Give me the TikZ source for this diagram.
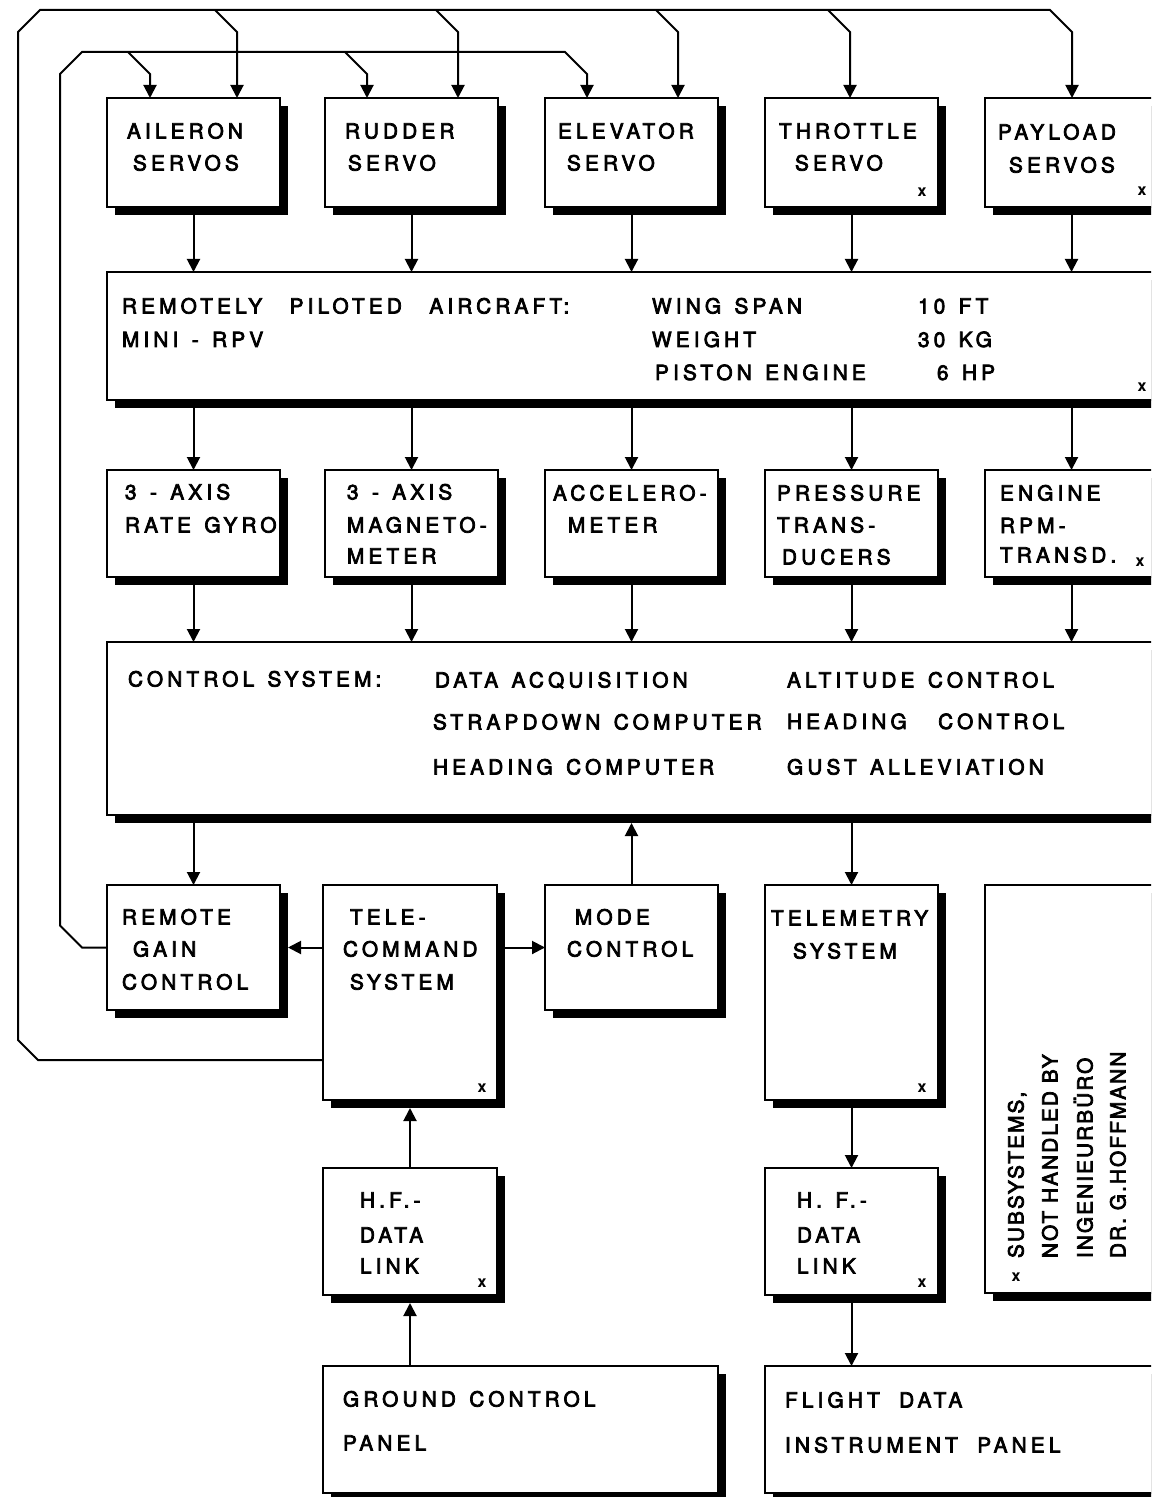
\documentclass[tikz,border=0pt]{standalone}
\usepackage{fontspec}
\setmainfont{TeX Gyre Heros}
\newfontfamily\lsf{TeX Gyre Heros}[LetterSpace=20,WordSpace=1.35,FakeBold=3.5]
\newfontfamily\nsf{TeX Gyre Heros}[LetterSpace=10,FakeBold=3.5]
\usetikzlibrary{arrows.meta}
\tikzset{
  box/.style={draw, line width=1.3pt, fill=white, inner sep=0pt, outer sep=0pt, anchor=north west},
  shadowfill/.style={fill=black},
  txt/.style={anchor=base west, inner sep=0pt, outer sep=0pt, font=\fontsize{10.4}{12}\lsf},
  ntxt/.style={anchor=base west, inner sep=0pt, outer sep=0pt, rotate=90, font=\fontsize{10.4}{12}\nsf},
  xm/.style={inner sep=0pt, font=\fontsize{8}{9}\selectfont\bfseries},
  arr/.style={line width=1pt, -{Triangle[length=6.5pt,width=6.5pt]}},
}
\newcommand\bx[5]{%
  \pgfmathsetmacro\bxw{(#4-#2)*0.5}\pgfmathsetmacro\bxh{(#5-#3)*0.5}%
  \fill[shadowfill] (#2+8,#3+8) rectangle (#4+8,#5+8);
  \node[box, minimum width=\bxw pt, minimum height=\bxh pt] (#1) at (#2,#3) {};}
\newcommand\wsp{\hspace{7pt}}
\begin{document}
\begin{tikzpicture}[x=0.5pt,y=-0.5pt]
\useasboundingbox (0,0) rectangle (1151,1497);
\clip (0,0) rectangle (1151,1497);
\fill[white] (0,0) rectangle (1151,1497);
% boxes
\bx{ail}{107}{98}{280}{207}
\bx{rud}{325}{98}{498}{207}
\bx{ele}{545}{98}{718}{207}
\bx{thr}{765}{98}{938}{207}
\bx{pay}{985}{98}{1158}{207}
\bx{rpa}{107}{272}{1170}{400}
\bx{gyr}{107}{470}{280}{577}
\bx{mag}{325}{470}{498}{577}
\bx{acc}{545}{470}{718}{577}
\bx{prs}{765}{470}{938}{577}
\bx{eng}{985}{470}{1158}{577}
\bx{cs}{107}{642}{1170}{815}
\bx{rgc}{107}{885}{280}{1010}
\bx{tc}{323}{885}{497}{1100}
\bx{mode}{545}{885}{718}{1010}
\bx{tm}{765}{885}{938}{1100}
\bx{note}{985}{885}{1170}{1293}
\bx{hf1}{323}{1168}{497}{1295}
\bx{hf2}{765}{1168}{938}{1295}
\bx{gcp}{323}{1366}{718}{1493}
\bx{fdp}{765}{1366}{1170}{1493}
% texts row 1
\node[txt] (tail1) at (127,138.5) {AILERON};
\node[txt] (tail2) at (133,170.5) {SERVOS};
\node[txt] (trud1) at (345,138.5) {RUDDER};
\node[txt] (trud2) at (348,170.5) {SERVO};
\node[txt] (tele1) at (558,138.5) {ELEVATOR};
\node[txt] (tele2) at (567,170.5) {SERVO};
\node[txt] (tthr1) at (779,138.5) {THROTTLE};
\node[txt] (tthr2) at (795,170.5) {SERVO};
\node[xm]  (xthr) at (922,192) {x};
\node[txt] (tpay1) at (998,139.5) {PAYLOAD};
\node[txt] (tpay2) at (1009,172.5) {SERVOS};
\node[xm]  (xpay) at (1142,191) {x};
% RPA
\node[txt] (trpa1) at (122,313.5) {REMOTELY\wsp{} PILOTED\wsp{} AIRCRAFT:};
\node[txt] (trpa2) at (122,347) {MINI - RPV};
\node[txt] (trpa3) at (652,313.5) {WING SPAN};
\node[txt] (trpa4) at (652,347) {WEIGHT};
\node[txt] (trpa5) at (655,380) {PISTON ENGINE};
\node[txt] (trpa6) at (918,313.5) {10 FT};
\node[txt] (trpa7) at (918,347) {30 KG};
\node[txt] (trpa8) at (937,380) {6 HP};
\node[xm]  (xrpa) at (1142,387) {x};
% row 3
\node[txt] (tgyr1) at (125,499.5) {3 - AXIS};
\node[txt] (tgyr2) at (125,532.5) {RATE GYRO};
\node[txt] (tmag1) at (347,499.5) {3 - AXIS};
\node[txt] (tmag2) at (347,532.5) {MAGNETO-};
\node[txt] (tmag3) at (347,563.5) {METER};
\node[txt] (tacc1) at (553,500.5) {ACCELERO-};
\node[txt] (tacc2) at (568,532.5) {METER};
\node[txt] (tprs1) at (777,500.5) {PRESSURE};
\node[txt] (tprs2) at (777,532.5) {TRANS-};
\node[txt] (tprs3) at (782,564.5) {DUCERS};
\node[txt] (teng1) at (1000,500.5) {ENGINE};
\node[txt] (teng2) at (1000,533) {RPM-};
\node[txt] (teng3) at (1000,562.5) {TRANSD.};
\node[xm]  (xeng) at (1140,562) {x};
% control system
\node[txt] (tcs1) at (128,686.5) {CONTROL SYSTEM:};
\node[txt] (tcs2) at (435,687.5) {DATA ACQUISITION};
\node[txt] (tcs3) at (433,729.5) {STRAPDOWN COMPUTER};
\node[txt] (tcs4) at (433,774.5) {HEADING COMPUTER};
\node[txt] (tcs5) at (787,687.5) {ALTITUDE CONTROL};
\node[txt] (tcs6) at (787,729) {HEADING\hspace{9pt} CONTROL};
\node[txt] (tcs7) at (787,774.5) {GUST ALLEVIATION};
% row 4
\node[txt] (trgc1) at (122,924.5) {REMOTE};
\node[txt] (trgc2) at (133,956.5) {GAIN};
\node[txt] (trgc3) at (122,989.5) {CONTROL};
\node[txt] (ttc1) at (350,924.5) {TELE-};
\node[txt] (ttc2) at (343,956.5) {COMMAND};
\node[txt] (ttc3) at (350,989.5) {SYSTEM};
\node[xm]  (xtc) at (482,1088) {x};
\node[txt] (tmode1) at (575,924.5) {MODE};
\node[txt] (tmode2) at (567,956.5) {CONTROL};
\node[txt] (ttm1) at (771,925.5) {TELEMETRY};
\node[txt] (ttm2) at (793,958.5) {SYSTEM};
\node[xm]  (xtm) at (922,1088) {x};
% row 5
\node[txt] (thf11) at (360,1207.5) {H.F.-};
\node[txt] (thf12) at (360,1242.5) {DATA};
\node[txt] (thf13) at (360,1273.5) {LINK};
\node[xm]  (xhf1) at (482,1283) {x};
\node[txt] (thf21) at (797,1207.5) {H. F.-};
\node[txt] (thf22) at (797,1242.5) {DATA};
\node[txt] (thf23) at (797,1273.5) {LINK};
\node[xm]  (xhf2) at (922,1283) {x};
% row 6
\node[txt] (tgcp1) at (343,1406.5) {GROUND CONTROL};
\node[txt] (tgcp2) at (343,1450.5) {PANEL};
\node[txt] (tfdp1) at (785,1407.5) {FLIGHT\hspace{3pt} DATA};
\node[txt] (tfdp2) at (785,1452.5) {INSTRUMENT\hspace{3pt} PANEL};
% note
\node[xm]  (xnote) at (1016,1277) {x};
\node[ntxt] (tn1) at (1023.5,1258) {SUBSYSTEMS,};
\node[ntxt] (tn2) at (1057.5,1258) {NOT HANDLED BY};
\node[ntxt] (tn3) at (1092.5,1258) {INGENIEURBÜRO};
\node[ntxt] (tn4) at (1125.5,1258) {DR. G.HOFFMANN};
% vertical connectors
\foreach \n in {ail,rud,ele,thr,pay} \draw[arr] (\n.south) -- (\n.south |- rpa.north);
\foreach \n in {gyr,mag,acc,prs,eng} {
  \draw[arr] (\n.north |- rpa.south) -- (\n.north);
  \draw[arr] (\n.south) -- (\n.south |- cs.north);
}
\draw[arr] (rgc.north |- cs.south) -- (rgc.north);
\draw[arr] (tm.north |- cs.south) -- (tm.north);
\coordinate (csb) at ([yshift=-4pt]cs.south);
\draw[arr] (mode.north) -- (mode.north |- csb);
\coordinate (rgcs) at ([xshift=4pt]rgc.east);
\draw[arr] (tc.west |- rgc.east) -- (rgcs);
\draw[arr] (tc.east |- mode.west) -- (mode.west);
\coordinate (tcb) at ([yshift=-4pt]tc.south);
\draw[arr] (hf1.north) -- (hf1.north |- tcb);
\coordinate (hf1b) at ([yshift=-4pt]hf1.south);
\draw[arr] (hf1.south |- gcp.north) -- (hf1b);
\draw[arr] (tm.south) -- (hf2.north);
\draw[arr] (hf2.south) -- (hf2.south |- fdp.north);
% outer loop
\coordinate (o1) at (38,1060);
\coordinate (o2) at (18,1040);
\coordinate (o3) at (18,32);
\coordinate (o4) at (40,10);
\coordinate (o5) at (1050,10);
\coordinate (o6) at (1072,32);
\draw[arr] (tc.west |- o1) -- (o1) -- (o2) -- (o3) -- (o4) -- (o5) -- (o6) -- (o6 |- pay.north);
\coordinate (ob1) at (215,10);  \coordinate (ob1d) at (237,32);
\coordinate (ob2) at (436,10);  \coordinate (ob2d) at (458,32);
\coordinate (ob3) at (656,10);  \coordinate (ob3d) at (678,32);
\coordinate (ob4) at (828,10);  \coordinate (ob4d) at (850,32);
\draw[arr] (ob1) -- (ob1d) -- (ob1d |- ail.north);
\draw[arr] (ob2) -- (ob2d) -- (ob2d |- rud.north);
\draw[arr] (ob3) -- (ob3d) -- (ob3d |- ele.north);
\draw[arr] (ob4) -- (ob4d) -- (ob4d |- thr.north);
% inner loop
\coordinate (i1) at (82,947.5);
\coordinate (i2) at (60,925.5);
\coordinate (i3) at (60,74);
\coordinate (i4) at (82,52);
\coordinate (i5) at (565,52);
\coordinate (i6) at (587,74);
\draw[arr] (rgc.west) -- (i1) -- (i2) -- (i3) -- (i4) -- (i5) -- (i6) -- (i6 |- ele.north);
\coordinate (ib1) at (128,52);  \coordinate (ib1d) at (150,74);
\coordinate (ib2) at (345,52);  \coordinate (ib2d) at (367,74);
\draw[arr] (ib1) -- (ib1d) -- (ib1d |- ail.north);
\draw[arr] (ib2) -- (ib2d) -- (ib2d |- rud.north);
\end{tikzpicture}
\end{document}
